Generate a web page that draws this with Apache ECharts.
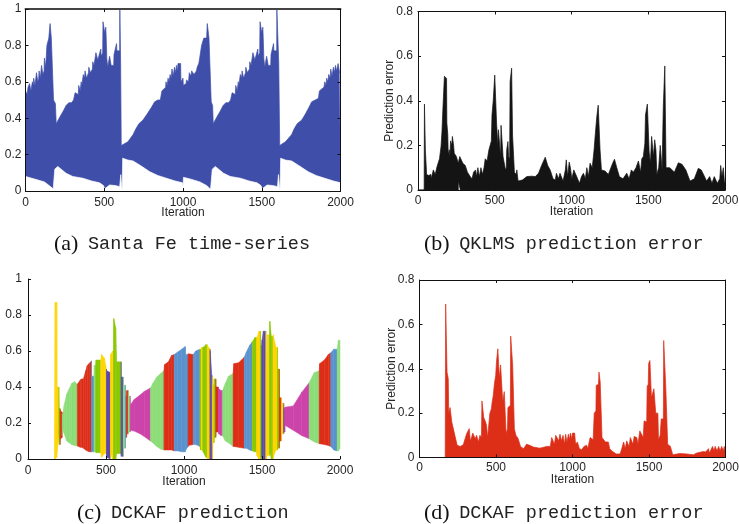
<!DOCTYPE html>
<html><head><meta charset="utf-8">
<style>html,body{margin:0;padding:0;background:#fff}#c{width:739px;height:524px}</style>
<script src="https://cdn.jsdelivr.net/npm/echarts@6/dist/echarts.min.js"></script>
</head><body><div id="c"></div>
<script>
const captions=[['(a)','Santa Fe time-series'],['(b)','QKLMS prediction error'],['(c)','DCKAF prediction'],['(d)','DCKAF prediction error']];

const aHigh=[[0,.55],[8,.55],[10,.53],[14,.53],[16,.57],[24,.56],[26,.59],[32,.59],[34,.55],[42,.56],[44,.60],[50,.58],[52,.62],[58,.62],[60,.58],[68,.59],[70,.65],[76,.64],[78,.60],[84,.62],[86,.66],[92,.66],[94,.62],[100,.63],[102,.69],[108,.69],[110,.64],[118,.66],[120,.73],[126,.72],[128,.68],[134,.69],[136,.80],[146,.80],[148,.84],[154,.84],[156,.92],[162,.92],[164,.84],[176,.84],[178,.50],[190,.48],[195,.37],[205,.38],[220,.41],[240,.44],[258,.47],[275,.485],[292,.485],[305,.50],[315,.54],[322,.55],[326,.53],[335,.53],[338,.58],[345,.58],[347,.55],[354,.60],[356,.57],[365,.58],[367,.64],[375,.62],[378,.66],[385,.65],[388,.62],[400,.65],[402,.68],[410,.68],[412,.65],[425,.67],[427,.71],[435,.69],[445,.70],[447,.76],[457,.77],[459,.72],[478,.78],[480,.74],[490,.76],[492,.93],[500,.93],[503,.87],[510,.90],[514,.80],[516,.73],[522,.68],[525,.67],[532,.67],[534,.74],[542,.74],[544,.69],[560,.69],[562,.75],[568,.75],[570,.78],[578,.81],[580,.77],[598,.77],[599,1],[602,1],[604,.70],[608,.25],[612,.25],[650,.27],[683,.31],[700,.34],[720,.37],[746,.39],[770,.42],[800,.46],[820,.49],[840,.50],[856,.50],[860,.52],[866,.55],[872,.54],[875,.56],[890,.57],[892,.60],[900,.58],[905,.62],[912,.60],[918,.64],[925,.62],[930,.67],[938,.63],[946,.68],[955,.65],[958,.69],[965,.66],[968,.70],[985,.70],[987,.60],[1000,.62],[1002,.58],[1020,.59],[1022,.61],[1035,.60],[1040,.65],[1050,.63],[1055,.66],[1070,.64],[1085,.66],[1090,.68],[1100,.70],[1104,.72],[1115,.72],[1118,.80],[1130,.80],[1132,.84],[1150,.84],[1154,.92],[1162,.92],[1165,.84],[1177,.84],[1179,.49],[1188,.47],[1192,.37],[1202,.38],[1217,.41],[1237,.44],[1255,.47],[1272,.485],[1289,.485],[1302,.50],[1312,.54],[1319,.55],[1323,.53],[1332,.53],[1335,.58],[1342,.58],[1344,.55],[1351,.60],[1353,.57],[1362,.58],[1364,.64],[1372,.62],[1375,.66],[1382,.65],[1385,.62],[1397,.65],[1399,.68],[1407,.68],[1409,.65],[1422,.67],[1424,.71],[1432,.69],[1442,.70],[1444,.76],[1454,.77],[1456,.72],[1475,.78],[1477,.74],[1487,.76],[1489,.93],[1497,.93],[1500,.87],[1507,.90],[1511,.80],[1513,.73],[1519,.68],[1522,.67],[1529,.67],[1531,.74],[1539,.74],[1541,.69],[1557,.69],[1559,.75],[1565,.75],[1567,.78],[1575,.81],[1577,.77],[1595,.77],[1596,1],[1606,1],[1608,.70],[1614,.25],[1650,.27],[1690,.31],[1705,.34],[1725,.37],[1754,.39],[1775,.42],[1800,.46],[1817,.49],[1840,.50],[1860,.51],[1866,.55],[1875,.54],[1880,.56],[1895,.57],[1900,.60],[1908,.58],[1912,.62],[1920,.60],[1925,.64],[1934,.62],[1938,.67],[1946,.63],[1955,.68],[1962,.65],[1968,.69],[1975,.66],[1985,.70],[1992,.70],[1994,.65],[2000,.65]];
const aLow=[[0,.08],[40,.07],[80,.06],[120,.05],[150,.03],[176,.012],[180,.01],[186,.12],[190,.13],[205,.135],[258,.097],[300,.08],[365,.07],[420,.055],[470,.045],[495,.03],[503,.012],[515,.02],[534,.033],[570,.03],[598,.024],[605,.09],[610,.03],[614,.005],[617,.18],[650,.17],[683,.165],[730,.14],[789,.106],[840,.085],[895,.07],[950,.055],[997,.045],[1000,.02],[1003,.075],[1050,.065],[1107,.05],[1150,.03],[1175,.01],[1183,.01],[1186,.12],[1192,.13],[1205,.135],[1258,.097],[1300,.08],[1365,.07],[1420,.055],[1470,.045],[1495,.03],[1503,.012],[1515,.02],[1534,.033],[1570,.03],[1600,.024],[1606,.09],[1612,.03],[1616,.005],[1620,.18],[1650,.17],[1690,.165],[1735,.14],[1795,.106],[1845,.085],[1900,.07],[1955,.055],[2000,.045]];

const bHigh=[[0,0],[40,0],[42,.385],[46,.385],[48,.18],[54,.18],[56,.07],[70,.065],[72,.07],[84,.07],[86,.05],[98,.05],[100,.09],[110,.09],[112,.07],[122,.07],[124,.105],[134,.105],[140,.14],[150,.195],[156,.26],[162,.36],[170,.36],[172,.51],[186,.50],[188,.30],[194,.25],[197,.16],[204,.18],[208,.15],[212,.22],[220,.20],[224,.24],[232,.20],[236,.165],[250,.15],[262,.12],[268,.12],[272,.15],[282,.15],[292,.12],[308,.11],[322,.08],[340,.06],[352,.05],[362,.08],[375,.09],[382,.06],[390,.10],[400,.06],[410,.10],[420,.07],[430,.10],[438,.14],[450,.13],[462,.18],[472,.18],[478,.22],[482,.336],[490,.40],[498,.40],[500,.515],[510,.515],[512,.30],[520,.20],[524,.27],[536,.27],[538,.15],[541,.29],[552,.29],[554,.15],[570,.09],[575,.10],[578,.18],[586,.217],[590,.15],[597,.14],[600,.486],[608,.486],[610,.546],[614,.546],[616,.246],[624,.246],[628,.08],[640,.07],[644,.09],[652,.04],[680,.045],[709,.06],[740,.062],[764,.06],[785,.075],[805,.11],[829,.147],[845,.11],[861,.09],[880,.05],[894,.045],[902,.075],[915,.05],[925,.075],[937,.075],[945,.04],[960,.09],[966,.135],[972,.135],[975,.06],[985,.125],[993,.10],[1002,.05],[1015,.09],[1024,.097],[1040,.05],[1052,.03],[1065,.06],[1078,.075],[1090,.05],[1100,.10],[1110,.06],[1121,.12],[1135,.10],[1147,.18],[1155,.25],[1165,.33],[1172,.33],[1174,.38],[1184,.38],[1186,.18],[1195,.09],[1219,.085],[1240,.07],[1252,.075],[1268,.12],[1280,.138],[1295,.10],[1312,.06],[1335,.05],[1360,.075],[1375,.05],[1390,.09],[1403,.08],[1420,.10],[1436,.13],[1450,.08],[1458,.14],[1468,.15],[1478,.21],[1482,.336],[1492,.336],[1494,.385],[1504,.385],[1506,.17],[1514,.12],[1522,.24],[1532,.24],[1534,.15],[1542,.225],[1550,.18],[1556,.07],[1568,.10],[1578,.20],[1584,.20],[1590,.09],[1598,.374],[1606,.374],[1608,.556],[1614,.556],[1616,.10],[1640,.10],[1653,.105],[1670,.08],[1696,.122],[1720,.115],[1745,.09],[1772,.04],[1800,.05],[1826,.097],[1845,.09],[1860,.07],[1880,.04],[1900,.06],[1915,.03],[1930,.06],[1950,.03],[1966,.05],[1972,.11],[1980,.06],[1989,.10],[1996,.04],[2000,.03]];
const bLow=[[0,0],[262,0],[263,.04],[275,.04],[276,0],[2000,0]];

const cKeys={G:'#8cdc78',R:'#dd2e18',B:'#5a92cf',L:'#8ac800',Y:'#ffd400',I:'#5a4aad',M:'#cc44aa'};
const cBands=[[170,0,0,'Y'],[174,0,.87,'Y'],[184,.01,.87,'Y'],[186,.04,.40,'Y'],[198,.14,.40,'L'],[200,.08,.28,'L'],[206,.08,.28,'R'],[207,.11,.27,'R'],[218,.12,.26,'R'],[219,.13,.25,'G'],[222,.17,.24,'G'],[232,.14,.30,'G'],[248,.10,.36,'G'],[264,.09,.39,'G'],[280,.08,.42,'G'],[298,.075,.43,'G'],[316,.072,.415,'R'],[336,.065,.44,'R'],[345,.065,.445,'R'],[355,.06,.445,'R'],[370,.05,.49,'R'],[380,.045,.52,'R'],[392,.04,.53,'R'],[407,.04,.545,'B'],[408,.04,.46,'B'],[424,.04,.46,'G'],[425,.04,.52,'G'],[435,.04,.52,'L'],[436,.035,.55,'L'],[466,.035,.55,'Y'],[472,.01,.58,'Y'],[490,.03,.56,'Y'],[503,.03,.50,'I'],[504,.01,.49,'I'],[529,0,.48,'Y'],[530,.03,.58,'Y'],[542,0,.6,'Y'],[549,0,.6,'L'],[550,0,.78,'L'],[562,0,.73,'L'],[568,.03,.54,'L'],[597,.03,.54,'I'],[598,.015,.455,'I'],[611,.015,.455,'G'],[612,.06,.41,'G'],[624,.06,.41,'B'],[625,.12,.35,'B'],[632,.12,.35,'R'],[633,.14,.38,'R'],[643,.14,.38,'G'],[644,.15,.35,'G'],[655,.15,.35,'M'],[656,.16,.30,'M'],[680,.155,.33,'M'],[718,.14,.355,'M'],[745,.125,.375,'M'],[785,.10,.395,'G'],[800,.09,.42,'G'],[825,.07,.455,'G'],[850,.055,.475,'G'],[871,.05,.49,'R'],[876,.05,.525,'R'],[900,.05,.54,'R'],[920,.05,.575,'R'],[937,.045,.58,'B'],[960,.045,.595,'B'],[985,.04,.61,'B'],[1008,.04,.625,'B'],[1011,.05,.58,'B'],[1027,.07,.58,'R'],[1028,.075,.585,'R'],[1059,.08,.58,'B'],[1075,.08,.60,'B'],[1102,.07,.61,'L'],[1106,.05,.61,'L'],[1111,.05,.61,'Y'],[1112,.05,.62,'Y'],[1121,.05,.62,'L'],[1122,.04,.62,'L'],[1140,.01,.635,'L'],[1149,.01,.635,'Y'],[1150,0,.63,'Y'],[1167,0,.61,'I'],[1168,0,.60,'I'],[1178,0,.465,'I'],[1182,0,.46,'Y'],[1185,.09,.41,'Y'],[1193,.09,.41,'L'],[1194,.12,.445,'L'],[1204,.12,.445,'R'],[1205,.15,.40,'R'],[1221,.15,.40,'M'],[1222,.14,.39,'M'],[1238,.13,.38,'M'],[1247,.13,.38,'G'],[1265,.10,.42,'G'],[1285,.09,.46,'G'],[1315,.07,.475,'R'],[1320,.07,.53,'R'],[1350,.065,.535,'R'],[1386,.06,.565,'B'],[1400,.06,.595,'B'],[1420,.05,.63,'B'],[1437,.045,.65,'L'],[1455,.04,.675,'L'],[1466,.04,.675,'Y'],[1467,.02,.67,'Y'],[1480,0,.71,'Y'],[1490,0,.71,'L'],[1491,.01,.63,'L'],[1499,.01,.63,'I'],[1500,0,.66,'I'],[1509,0,.71,'I'],[1525,0,.71,'Y'],[1526,0,.5,'Y'],[1535,.02,.69,'Y'],[1549,.02,.69,'L'],[1550,.04,.765,'L'],[1560,0,.68,'L'],[1571,0,.68,'Y'],[1572,.01,.69,'Y'],[1590,.05,.62,'Y'],[1599,.05,.62,'L'],[1600,.06,.5,'L'],[1611,.06,.5,'R'],[1612,.1,.34,'R'],[1624,.1,.34,'Y'],[1625,.14,.31,'Y'],[1639,.14,.31,'I'],[1640,.15,.28,'I'],[1646,.15,.28,'M'],[1647,.187,.288,'M'],[1700,.16,.295,'M'],[1754,.13,.37,'M'],[1802,.113,.423,'G'],[1835,.095,.48,'G'],[1867,.085,.49,'R'],[1870,.085,.53,'R'],[1900,.08,.55,'R'],[1925,.075,.58,'R'],[1941,.07,.59,'B'],[1960,.05,.61,'B'],[1982,.045,.61,'G'],[1990,.045,.66,'G'],[2000,.06,.66,'G']];

const dHigh=[[0,0],[168,0],[171,.692],[178,.692],[180,.385],[188,.355],[191,.2],[197,.2],[200,.225],[208,.225],[211,.16],[220,.16],[231,.1],[246,.055],[266,.05],[286,.057],[298,.085],[308,.107],[316,.10],[325,.13],[332,.075],[340,.09],[348,.11],[355,.115],[364,.085],[373,.10],[385,.07],[395,.10],[405,.09],[408,.255],[418,.255],[420,.18],[432,.16],[438,.145],[445,.09],[449,.12],[456,.12],[460,.20],[470,.22],[475,.25],[482,.28],[490,.335],[498,.37],[503,.43],[510,.43],[512,.49],[520,.49],[522,.36],[528,.36],[530,.417],[542,.417],[544,.25],[552,.25],[554,.297],[564,.297],[566,.107],[575,.13],[578,.225],[594,.235],[596,.547],[607,.547],[609,.415],[616,.415],[620,.13],[630,.10],[645,.085],[660,.05],[680,.04],[700,.06],[720,.055],[744,.047],[787,.042],[831,.05],[855,.05],[864,.09],[875,.096],[882,.06],[890,.10],[900,.107],[910,.075],[918,.105],[929,.075],[938,.10],[948,.06],[955,.105],[964,.07],[973,.105],[980,.08],[986,.11],[995,.085],[1000,.11],[1014,.11],[1020,.06],[1032,.07],[1045,.04],[1060,.035],[1075,.05],[1093,.055],[1100,.04],[1115,.09],[1125,.09],[1135,.08],[1142,.20],[1153,.21],[1155,.325],[1170,.33],[1173,.385],[1178,.385],[1181,.34],[1190,.34],[1193,.09],[1215,.07],[1234,.07],[1243,.04],[1256,.03],[1285,.016],[1311,.016],[1322,.04],[1334,.07],[1345,.04],[1354,.075],[1370,.05],[1378,.09],[1395,.06],[1403,.095],[1420,.09],[1428,.06],[1440,.12],[1452,.12],[1462,.09],[1468,.165],[1485,.16],[1488,.32],[1495,.33],[1498,.425],[1506,.437],[1512,.437],[1516,.27],[1528,.27],[1532,.31],[1540,.31],[1544,.20],[1558,.20],[1562,.08],[1573,.10],[1580,.174],[1594,.174],[1596,.527],[1608,.527],[1610,.31],[1618,.31],[1622,.06],[1640,.05],[1655,.012],[1700,.018],[1747,.016],[1790,.012],[1812,.02],[1856,.027],[1870,.025],[1889,.04],[1895,.02],[1915,.05],[1925,.03],[1932,.05],[1945,.03],[1955,.05],[1965,.03],[1975,.05],[1985,.03],[1992,.05],[2000,.02]];
const dLow=[[0,0],[180,0],[182,.008],[190,.008],[192,0],[2000,0]];

const panels=[
 {l:25.5,t:9,w:315,h:182,max:1,box:true,color:'#3f4fa9',xm:6,nm:22,ym:4,yn:19},
 {l:418,t:11.5,w:307,h:178.5,max:.8,box:true,name:'Prediction error',color:'#141414',xm:5,nm:22,ym:5,yn:28},
 {l:28,t:279,w:312,h:180,max:1,box:false,xm:6,nm:23,ym:6,yn:19},
 {l:419.5,t:280,w:306,h:177.5,max:.8,box:true,name:'Prediction error',color:'#dd2e18',xm:4,nm:22,ym:5,yn:28}
];
const lines=[[aHigh,aLow],[bHigh,bLow],null,[dHigh,dLow]];
const capPos=[[54,233],[424,233],[77,502],[424,502]];
const ink='#262626';
const grid=[],xAxis=[],yAxis=[],series=[];
panels.forEach((p,i)=>{
 grid.push({left:p.l,top:p.t,width:p.w,height:p.h,show:false,outerBoundsMode:'none'});
 const ax={type:'value',gridIndex:i,min:0,max:2000,interval:500,z:10};
 const ay={type:'value',gridIndex:i,min:0,max:p.max,interval:.2,z:10};
 const ln={show:true,onZero:false,lineStyle:{color:'#111',width:1}};
 xAxis.push({...ax,position:'bottom',axisLine:ln,splitLine:{show:false},
  axisTick:{show:true,inside:true,length:3,lineStyle:{color:'#111'}},
  axisLabel:{show:true,color:ink,fontFamily:'Liberation Sans',fontSize:12,margin:p.xm,hideOverlap:false,showMinLabel:true,showMaxLabel:true,formatter:v=>String(v)},
  name:'Iteration',nameLocation:'middle',nameGap:p.nm,nameMoveOverlap:false,nameTextStyle:{color:ink,fontFamily:'Liberation Sans',fontSize:12,verticalAlign:'middle'}});
 yAxis.push({...ay,position:'left',axisLine:ln,splitLine:{show:false},
  axisTick:{show:true,inside:true,length:3,lineStyle:{color:'#111'}},
  axisLabel:{show:true,color:ink,fontFamily:'Liberation Sans',fontSize:12,margin:p.ym,showMinLabel:true,showMaxLabel:true},
  name:p.name||'',nameLocation:'middle',nameGap:p.yn,nameMoveOverlap:false,nameTextStyle:{color:ink,fontFamily:'Liberation Sans',fontSize:12,verticalAlign:'middle'}});
 xAxis.push({...ax,position:'top',show:p.box,axisLine:{show:true,onZero:false,lineStyle:{color:i===0?'#444':'#111',width:i===0?2:1}},axisLabel:{show:false},splitLine:{show:false},
  axisTick:{show:true,inside:true,length:3,lineStyle:{color:'#111'}}});
 yAxis.push({...ay,position:'right',show:p.box,axisLine:{show:true,onZero:false,lineStyle:{color:'#111',width:1}},axisLabel:{show:false},splitLine:{show:false},
  axisTick:{show:true,inside:true,length:3,lineStyle:{color:'#111'}}});
 if(lines[i]){
  const base={type:'line',xAxisIndex:2*i,yAxisIndex:2*i,showSymbol:false,silent:true,animation:false,smooth:false};
  series.push({...base,data:lines[i][0],z:2,lineStyle:{color:p.color,width:.7},areaStyle:{color:p.color,opacity:1,origin:'start'}});
  series.push({...base,data:lines[i][1],z:3,lineStyle:{color:i===0?'#ffffff':p.color,width:.7},areaStyle:{color:'#ffffff',opacity:1,origin:'start'}});
 }
});
const cRows=cBands.slice(0,-1).map((r,i)=>{
 const n=cBands[i+1];
 return [r[0],n[0],r[1],r[2],n[1],n[2],r[3]];
});
series.push({type:'custom',xAxisIndex:4,yAxisIndex:4,animation:false,silent:true,z:2,
 encode:{x:[0,1],y:[2,3,4,5]},data:cRows,
 renderItem(params,api){
  const a=api.value(0),b=api.value(1);
  const pts=[api.coord([a,api.value(3)]),api.coord([b,api.value(5)]),api.coord([b,api.value(4)]),api.coord([a,api.value(2)])];
  const col=cKeys[cRows[params.dataIndex][6]];
  return {type:'polygon',shape:{points:pts},style:{fill:col,stroke:col,lineWidth:.5}};
 }});
const title=captions.map((c,i)=>({text:'{a|'+c[0]+'}{s| }{b|'+c[1]+'}',left:capPos[i][0],top:capPos[i][1],padding:0,
 textStyle:{fontWeight:'normal',rich:{a:{fontFamily:'Liberation Serif',fontWeight:'normal',fontSize:22,color:'#111'},s:{fontFamily:'Liberation Mono',fontWeight:'normal',fontSize:16,color:'#111'},b:{fontFamily:'Liberation Mono',fontWeight:'normal',fontSize:18.5,color:'#222'}}}}));
const chart=echarts.init(document.getElementById('c'),null,{renderer:'canvas'});
chart.setOption({animation:false,backgroundColor:'#fff',title,grid,xAxis,yAxis,series});
</script></body></html>
